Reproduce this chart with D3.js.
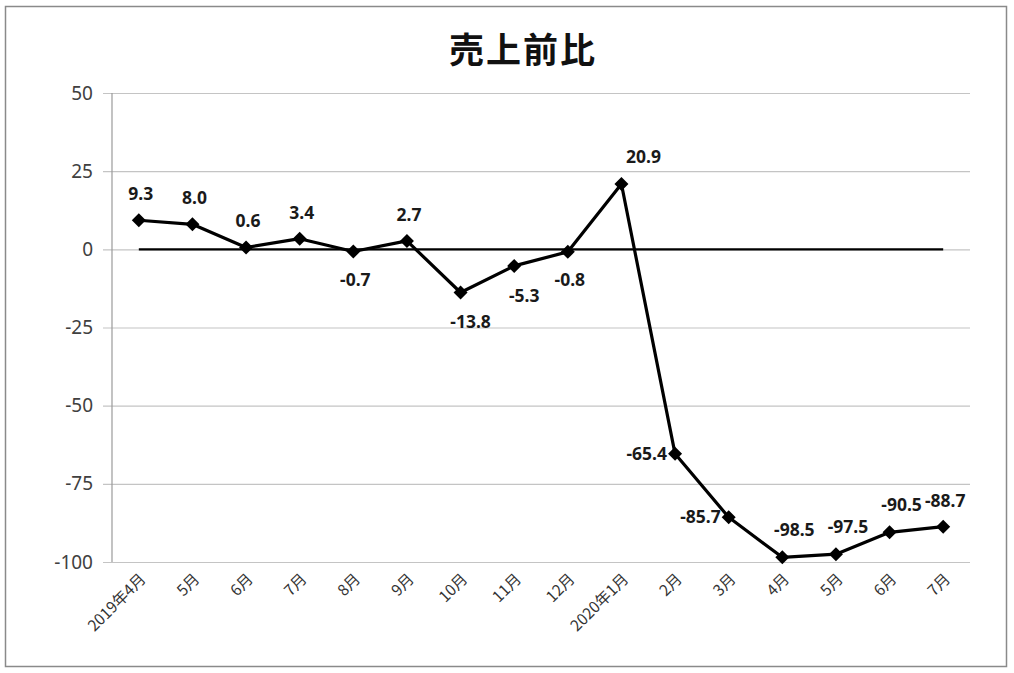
<!DOCTYPE html>
<html><head><meta charset="utf-8">
<script src="https://cdn.jsdelivr.net/npm/d3@7"></script>
<style>
html,body{margin:0;padding:0;background:#fff;}
svg{display:block;}
</style></head>
<body>
<svg id="chart" width="1014" height="673"></svg>
<script>
const title = "売上前比";
const categories = ["2019年4月","5月","6月","7月","8月","9月","10月","11月","12月","2020年1月","2月","3月","4月","5月","6月","7月"];
const values = [9.3, 8.0, 0.6, 3.4, -0.7, 2.7, -13.8, -5.3, -0.8, 20.9, -65.4, -85.7, -98.5, -97.5, -90.5, -88.7];
const baseline = categories.map(() => 0);
const yTicks = [50, 25, 0, -25, -50, -75, -100];
const labelPlacement = ["top","top","top","top","bottom","top","bottomright","bottomright","bottom","farright","left","left","topright","topright","topright","top"];

(function () {
const svg = d3.select("#chart");
const font = "'Noto Sans', 'Noto Sans CJK JP', sans-serif";

// frame
svg.append("rect").attr("x", 5.5).attr("y", 6.5).attr("width", 1001).attr("height", 660)
  .attr("fill", "#fff").attr("stroke", "#8a8a8a").attr("stroke-width", 1.5);

const pl = 112, pr = 970, pt = 93, pb = 562;
const idx = d3.range(categories.length);
const x = d3.scaleBand().domain(idx).range([pl, pr]);
const y = d3.scaleLinear().domain([-100, 50]).range([pb, pt]);
const cx = i => x(i) + x.bandwidth() / 2;

// title
svg.append("text").attr("x", 523).attr("y", 63).attr("text-anchor", "middle")
  .attr("font-family", "'Noto Sans CJK JP', sans-serif").attr("font-weight", "bold")
  .attr("font-size", 35).attr("letter-spacing", 2).attr("fill", "#111").text(title);

// y axis with grid
const yAxis = d3.axisLeft(y).tickValues(yTicks).tickFormat(d => String(d))
  .tickSize(-(pr - pl)).tickPadding(19).tickSizeOuter(0);
const gy = svg.append("g").attr("transform", `translate(${pl},0)`).call(yAxis);
gy.select(".domain").remove();
gy.selectAll(".tick line").attr("stroke", "#c4c4c4").attr("stroke-width", 1.2).attr("x1", -9);
gy.selectAll(".tick text").attr("font-family", font).attr("font-size", 19).attr("fill", "#404040");
svg.append("line").attr("x1", pl).attr("x2", pl).attr("y1", pt).attr("y2", pb)
  .attr("stroke", "#9a9a9a").attr("stroke-width", 1.2);

// x axis labels
const xAxis = d3.axisBottom(x).tickFormat(i => categories[i]).tickSize(0).tickPadding(0);
const gx = svg.append("g").attr("transform", `translate(0,${pb})`).call(xAxis);
gx.select(".domain").remove();
gx.selectAll(".tick text")
  .attr("font-family", "'Noto Sans CJK JP', sans-serif").attr("font-size", 15.5).attr("fill", "#333")
  .attr("text-anchor", "end").attr("dy", 0).attr("y", 0)
  .attr("transform", "translate(8,18) rotate(-45)");

// zero baseline series
const line = d3.line().x((d, i) => cx(i)).y(d => y(d));
svg.append("path").datum(baseline).attr("d", line).attr("fill", "none")
  .attr("stroke", "#000").attr("stroke-width", 2.2);

// main series
svg.append("path").datum(values).attr("d", line).attr("fill", "none")
  .attr("stroke", "#000").attr("stroke-width", 3.2).attr("stroke-linejoin", "round");

const s = 7;
svg.append("g").selectAll("path").data(values).join("path")
  .attr("d", `M0,${-s}L${s},0L0,${s}L${-s},0Z`)
  .attr("transform", (d, i) => `translate(${cx(i)},${y(d)})`)
  .attr("fill", "#000");

// data labels
const shift = { top: [2, -20], topright: [12, -21], farright: [22, -21], bottom: [2, 34], bottomright: [10, 36], left: [-8, 6] };
svg.append("g").selectAll("text").data(values).join("text")
  .attr("font-family", font).attr("font-weight", "bold").attr("font-size", 17.5).attr("fill", "#1a1a1a")
  .attr("text-anchor", (d, i) => labelPlacement[i] === "left" ? "end" : "middle")
  .attr("x", (d, i) => cx(i) + shift[labelPlacement[i]][0])
  .attr("y", (d, i) => y(d) + shift[labelPlacement[i]][1])
  .text(d => d.toFixed(1));
})();
</script>
</body></html>
